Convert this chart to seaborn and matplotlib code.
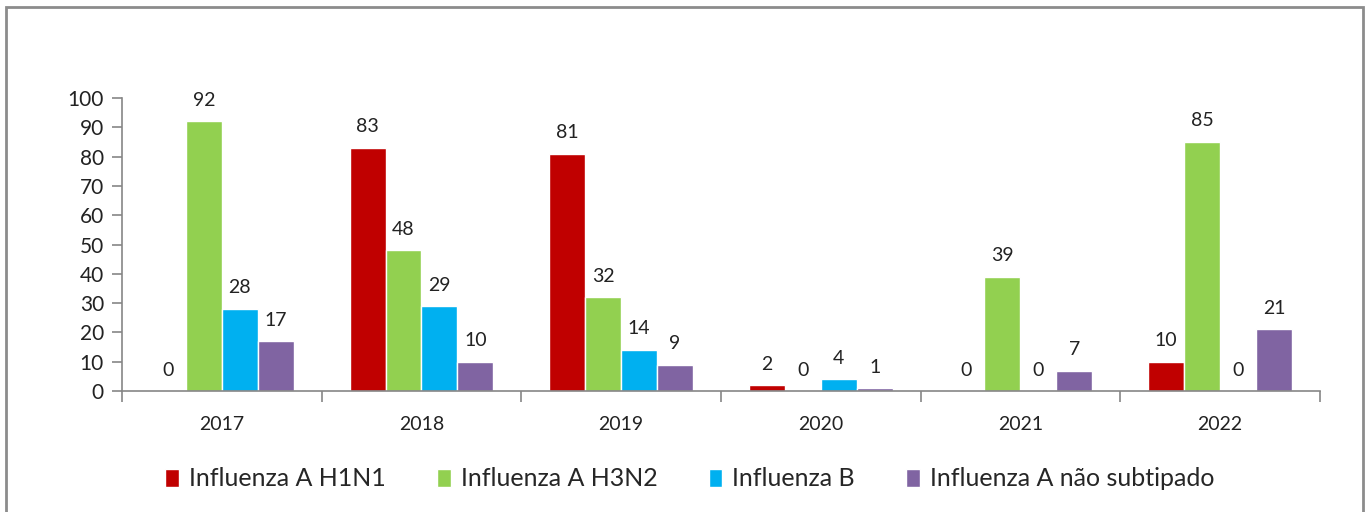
import pandas as pd
import matplotlib.pyplot as plt
import seaborn as sns
from matplotlib.patches import Rectangle

# data
years = ['2017', '2018', '2019', '2020', '2021', '2022']
series = ['Influenza A H1N1', 'Influenza A H3N2', 'Influenza B', 'Influenza A não subtipado']
h1n1 = [0, 83, 81, 2, 0, 10]
h3n2 = [92, 48, 32, 0, 39, 85]
flu_b = [28, 29, 14, 4, 0, 0]
nao_sub = [17, 10, 9, 1, 7, 21]
colors = ['#C00000', '#92D050', '#00B0F0', '#8064A2']

rows = []
for name, vals in zip(series, [h1n1, h3n2, flu_b, nao_sub]):
    for y, v in zip(years, vals):
        rows.append({'ano': y, 'tipo': name, 'casos': v})
df = pd.DataFrame(rows)

sns.set_style('white')
plt.rcParams['font.family'] = ['Lato', 'DejaVu Sans']

fig = plt.figure(figsize=(13.69, 5.12), dpi=100)
ax = fig.add_axes([0.0891, 0.2363, 0.875, 0.5723])

sns.barplot(data=df, x='ano', y='casos', hue='tipo', palette=colors,
            width=0.72, saturation=1, ax=ax, legend=True)

for c in ax.containers:
    ax.bar_label(c, fmt='%d', padding=9, fontsize=14, color='#222222')

ax.set_ylim(0, 100)
ax.set_yticks(range(0, 101, 10))
ax.set_xlim(-0.5, 5.5)
ax.set_xlabel('')
ax.set_ylabel('')

for s in ['top', 'right']:
    ax.spines[s].set_visible(False)
for s in ['left', 'bottom']:
    ax.spines[s].set_color('#868686')
    ax.spines[s].set_linewidth(1.2)

ax.tick_params(axis='y', which='major', length=7, width=1.2, color='#868686',
               labelsize=15, pad=6, left=True)
ax.set_xticks([i - 0.5 for i in range(7)], minor=True)
ax.tick_params(axis='x', which='major', length=0, labelsize=14, pad=18)
ax.tick_params(axis='x', which='minor', length=8, width=1.2, color='#868686',
               bottom=True)
for lab in ax.get_xticklabels() + ax.get_yticklabels():
    lab.set_color('#222222')

handles, labels = ax.get_legend_handles_labels()
ax.legend(handles, labels, loc='center', bbox_to_anchor=(0.474, -0.30), ncol=4,
          frameon=False, fontsize=18, handlelength=0.55, handleheight=0.75,
          handletextpad=0.4, columnspacing=2.05)

fig.patches.append(Rectangle((6 / 1369, -0.05), 1357 / 1369, 1.0 - 7 / 512 + 0.05,
                             transform=fig.transFigure, fill=False,
                             edgecolor='#8c8c8c', linewidth=2.0))

plt.savefig('out.png', dpi=100)
